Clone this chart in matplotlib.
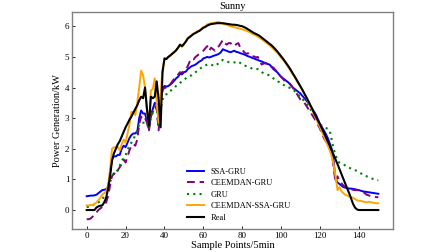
import matplotlib
matplotlib.use("Agg")
import matplotlib.pyplot as plt
import numpy as np

# sample index 0..150 (5 min steps)
x = np.arange(151)

real = [
    0.00, 0.00, 0.00, 0.00, 0.00, 0.08, 0.12, 0.14, 0.15, 0.25,
    0.40, 0.70, 1.10, 1.60, 1.85, 2.00, 2.15, 2.25, 2.40, 2.55,
    2.70, 2.82, 2.95, 3.05, 3.18, 3.30, 3.42, 3.58, 3.70, 3.65,
    4.00, 3.30, 2.75, 3.70, 3.65, 3.70, 4.20, 3.60, 2.70, 4.50,
    4.95, 4.93, 5.00, 5.05, 5.10, 5.15, 5.22, 5.30, 5.40, 5.35,
    5.42, 5.50, 5.60, 5.65, 5.70, 5.75, 5.78, 5.82, 5.85, 5.90,
    5.95, 5.98, 6.02, 6.05, 6.07, 6.08, 6.09, 6.10, 6.10, 6.10,
    6.10, 6.09, 6.08, 6.07, 6.06, 6.05, 6.05, 6.04, 6.03, 6.01,
    6.00, 5.97, 5.94, 5.90, 5.86, 5.82, 5.78, 5.75, 5.72, 5.68,
    5.63, 5.58, 5.53, 5.48, 5.43, 5.38, 5.32, 5.25, 5.18, 5.10,
    5.02, 4.94, 4.85, 4.76, 4.67, 4.57, 4.46, 4.36, 4.25, 4.14,
    4.03, 3.92, 3.80, 3.68, 3.56, 3.43, 3.30, 3.17, 3.04, 2.92,
    2.80, 2.66, 2.52, 2.38, 2.24, 2.10, 1.95, 1.80, 1.65, 1.50,
    1.34, 1.18, 1.02, 0.86, 0.70, 0.55, 0.38, 0.20, 0.08, 0.02,
    0.00, 0.00, 0.00, 0.00, 0.00, 0.00, 0.00, 0.00, 0.00, 0.00, 0.00,
]

ceemdan_ssa_gru = [
    0.15, 0.15, 0.16, 0.16, 0.20, 0.25, 0.32, 0.40, 0.50, 0.55,
    0.60, 0.80, 1.30, 2.00, 2.05, 2.05, 2.05, 1.95, 2.15, 2.30,
    2.20, 2.50, 2.80, 3.20, 3.20, 3.10, 3.50, 4.00, 4.55, 4.40,
    4.00, 3.20, 2.75, 3.90, 3.95, 4.30, 3.50, 2.85, 3.80, 4.60,
    4.90, 4.95, 5.00, 5.02, 5.12, 5.17, 5.20, 5.30, 5.38, 5.33,
    5.40, 5.52, 5.62, 5.65, 5.72, 5.76, 5.80, 5.84, 5.86, 5.92,
    5.97, 6.00, 6.06, 6.08, 6.10, 6.10, 6.12, 6.13, 6.14, 6.11,
    6.08, 6.06, 6.05, 6.02, 6.00, 5.98, 5.97, 5.95, 5.93, 5.92,
    5.90, 5.88, 5.86, 5.83, 5.80, 5.76, 5.73, 5.70, 5.66, 5.62,
    5.58, 5.53, 5.48, 5.43, 5.38, 5.32, 5.26, 5.20, 5.14, 5.06,
    4.98, 4.90, 4.82, 4.73, 4.63, 4.53, 4.43, 4.33, 4.22, 4.12,
    4.01, 3.90, 3.78, 3.66, 3.53, 3.40, 3.26, 3.12, 2.98, 2.84,
    2.70, 2.55, 2.40, 2.25, 2.10, 1.95, 1.75, 1.50, 1.10, 0.65,
    0.75, 0.62, 0.55, 0.50, 0.47, 0.45, 0.42, 0.40, 0.36, 0.32,
    0.30, 0.30, 0.28, 0.26, 0.25, 0.27, 0.26, 0.24, 0.23, 0.22, 0.22,
]

ssa_gru = [
    0.45, 0.46, 0.47, 0.47, 0.48, 0.50, 0.55, 0.60, 0.65, 0.66,
    0.68, 0.75, 1.20, 1.70, 1.75, 1.75, 1.80, 1.80, 2.00, 2.10,
    2.05, 2.20, 2.35, 2.45, 2.50, 2.50, 2.55, 3.00, 3.25, 3.15,
    3.15, 2.90, 2.65, 3.10, 3.30, 3.50, 3.45, 3.00, 3.55, 3.95,
    4.05, 4.03, 4.05, 4.10, 4.15, 4.22, 4.30, 4.35, 4.45, 4.43,
    4.50, 4.52, 4.60, 4.65, 4.70, 4.72, 4.75, 4.80, 4.85, 4.88,
    4.95, 4.97, 5.00, 4.98, 5.00, 5.03, 5.05, 5.07, 5.10, 5.15,
    5.25, 5.22, 5.20, 5.17, 5.15, 5.18, 5.20, 5.16, 5.15, 5.12,
    5.10, 5.08, 5.05, 5.02, 5.00, 4.97, 4.95, 4.92, 4.90, 4.87,
    4.85, 4.82, 4.80, 4.77, 4.75, 4.68, 4.60, 4.55, 4.50, 4.42,
    4.35, 4.30, 4.25, 4.20, 4.15, 4.08, 4.00, 3.95, 3.90, 3.85,
    3.80, 3.72, 3.65, 3.57, 3.50, 3.40, 3.30, 3.20, 3.10, 2.95,
    2.80, 2.70, 2.60, 2.48, 2.35, 2.18, 2.00, 1.60, 1.00, 0.90,
    0.85, 0.80, 0.75, 0.73, 0.72, 0.70, 0.70, 0.69, 0.68, 0.66,
    0.65, 0.63, 0.61, 0.60, 0.59, 0.58, 0.57, 0.56, 0.55, 0.54, 0.53,
]

ceemdan_gru = [
    -0.30, -0.30, -0.28, -0.22, -0.15, -0.08, 0.00, 0.05, 0.10, 0.18,
    0.25, 0.45, 0.80, 1.10, 1.20, 1.15, 1.30, 1.40, 1.50, 1.65,
    1.55, 1.75, 1.95, 2.10, 2.15, 2.10, 2.30, 2.80, 3.05, 2.95,
    3.00, 2.85, 2.60, 3.05, 3.20, 3.40, 3.30, 2.60, 3.50, 3.90,
    4.00, 3.98, 4.00, 4.10, 4.20, 4.28, 4.35, 4.42, 4.50, 4.48,
    4.55, 4.60, 4.70, 4.85, 4.95, 4.92, 5.00, 5.05, 5.10, 5.15,
    5.20, 5.28, 5.35, 5.20, 5.30, 5.25, 5.20, 5.30, 5.35, 5.45,
    5.55, 5.45, 5.40, 5.45, 5.45, 5.38, 5.35, 5.42, 5.45, 5.30,
    5.25, 5.15, 5.10, 5.12, 5.05, 5.00, 5.02, 4.98, 5.00, 4.85,
    4.75, 4.78, 4.80, 4.72, 4.70, 4.68, 4.65, 4.58, 4.50, 4.42,
    4.35, 4.28, 4.20, 4.18, 4.15, 4.08, 4.00, 3.90, 3.80, 3.70,
    3.60, 3.55, 3.50, 3.40, 3.30, 3.20, 3.10, 3.00, 2.90, 2.78,
    2.65, 2.50, 2.35, 2.25, 2.15, 2.05, 1.90, 1.40, 0.90, 1.10,
    0.95, 0.88, 0.80, 0.75, 0.70, 0.69, 0.68, 0.66, 0.65, 0.65,
    0.65, 0.62, 0.60, 0.55, 0.50, 0.48, 0.45, 0.44, 0.43, 0.42, 0.42,
]

gru = [
    0.10, 0.10, 0.10, 0.15, 0.20, 0.22, 0.25, 0.30, 0.35, 0.45,
    0.55, 0.70, 0.90, 1.10, 1.20, 1.25, 1.30, 1.45, 1.60, 1.70,
    1.80, 1.95, 2.10, 2.20, 2.30, 2.45, 2.60, 2.80, 2.85, 2.85,
    2.85, 2.80, 2.65, 3.00, 3.20, 3.25, 3.35, 2.70, 3.30, 3.60,
    3.75, 3.78, 3.80, 3.88, 3.95, 4.00, 4.05, 4.10, 4.15, 4.20,
    4.25, 4.30, 4.35, 4.38, 4.40, 4.45, 4.50, 4.55, 4.60, 4.65,
    4.70, 4.72, 4.75, 4.76, 4.75, 4.72, 4.70, 4.75, 4.80, 4.85,
    4.90, 4.87, 4.85, 4.83, 4.82, 4.82, 4.82, 4.83, 4.85, 4.80,
    4.75, 4.72, 4.70, 4.67, 4.65, 4.62, 4.60, 4.60, 4.60, 4.55,
    4.50, 4.47, 4.45, 4.42, 4.40, 4.35, 4.30, 4.25, 4.20, 4.18,
    4.15, 4.10, 4.05, 4.02, 4.00, 3.98, 3.95, 3.88, 3.80, 3.75,
    3.70, 3.62, 3.55, 3.48, 3.40, 3.30, 3.20, 3.10, 3.00, 2.90,
    2.80, 2.75, 2.70, 2.68, 2.65, 2.60, 2.30, 2.00, 1.80, 1.60,
    1.55, 1.52, 1.50, 1.45, 1.40, 1.38, 1.35, 1.33, 1.30, 1.28,
    1.25, 1.20, 1.15, 1.12, 1.10, 1.08, 1.05, 1.02, 1.00, 0.98, 0.97,
]

plt.rcParams['font.family'] = ['Liberation Serif', 'DejaVu Serif']

fig, ax = plt.subplots(figsize=(4.48, 2.52), dpi=100)
fig.subplots_adjust(left=0.161, right=0.877, bottom=0.091, top=0.952)

ax.plot(x, ssa_gru, color='blue', lw=1.4, label='SSA-GRU')
ax.plot(x, ceemdan_gru, color='purple', lw=1.4, ls=(0, (4, 2.5)), label='CEEMDAN-GRU')
ax.plot(x, gru, color='green', lw=1.5, ls=(0, (1, 2)), label='GRU')
ax.plot(x, ceemdan_ssa_gru, color='orange', lw=1.4, label='CEEMDAN-SSA-GRU')
ax.plot(x, real, color='black', lw=1.5, label='Real')

ax.set_xticks([0, 20, 40, 60, 80, 100, 120, 140])
ax.set_yticks([0, 1, 2, 3, 4, 5, 6])
ax.tick_params(direction='in', labelsize=6.5, length=2, width=0.6, pad=2)

for s in ax.spines.values():
    s.set_color('gray')
    s.set_linewidth(1.0)

ax.set_title('Sunny', fontsize=7.5, pad=2)
ax.set_xlabel('Sample Points/5min', fontsize=7.5, labelpad=1)
ax.set_ylabel('Power Generation/kW', fontsize=7.5, labelpad=2)

ax.legend(loc='lower left', bbox_to_anchor=(0.336, 0.0), frameon=False,
          fontsize=6, handlelength=2.0, labelspacing=0.42)

fig.savefig('out.png', dpi=100)
